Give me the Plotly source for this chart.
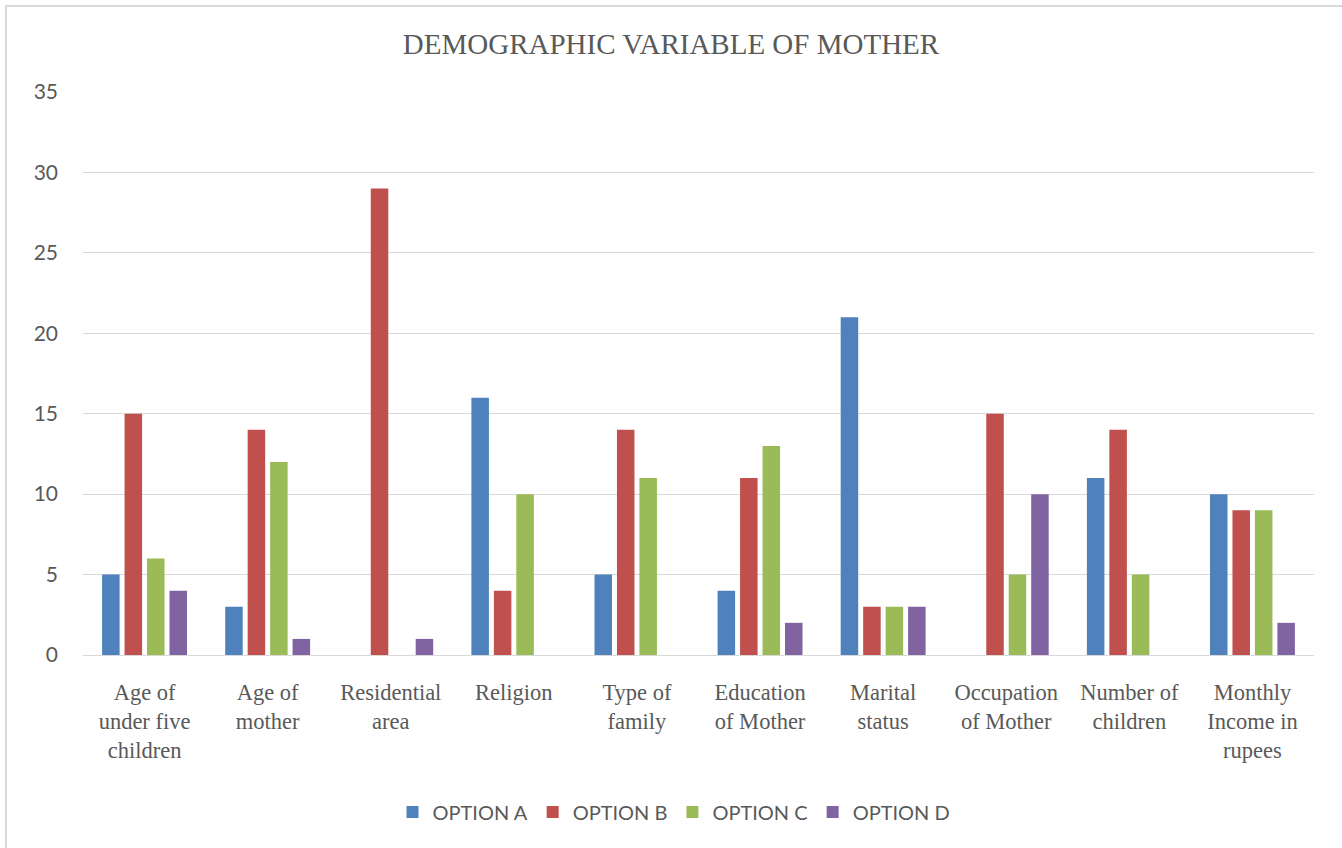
import plotly.graph_objects as go

categories = [
    "Age of<br>under five<br>children",
    "Age of<br>mother",
    "Residential<br>area",
    "Religion",
    "Type of<br>family",
    "Education<br>of Mother",
    "Marital<br>status",
    "Occupation<br>of Mother",
    "Number of<br>children",
    "Monthly<br>Income in<br>rupees",
]
option_a = [5, 3, 0, 16, 5, 4, 21, 0, 11, 10]
option_b = [15, 14, 29, 4, 14, 11, 3, 15, 14, 9]
option_c = [6, 12, 0, 10, 11, 13, 3, 5, 5, 9]
option_d = [4, 1, 1, 0, 0, 2, 3, 10, 0, 2]

series = [
    ("OPTION A", option_a, "#4F81BD"),
    ("OPTION B", option_b, "#C0504D"),
    ("OPTION C", option_c, "#9BBB59"),
    ("OPTION D", option_d, "#8064A2"),
]

W, H = 1342, 848
L, R, T, B = 83, 28, 92, 193

fig = go.Figure()
for name, vals, color in series:
    fig.add_trace(go.Bar(
        x=categories, y=vals, name=name,
        marker=dict(color=color, line=dict(width=0)),
    ))

pw, ph = W - L - R, H - T - B
def px_x(p):
    return (p - L) / pw
def px_y(p):
    return (H - B - p) / ph

fig.update_layout(
    width=W, height=H,
    margin=dict(l=L, r=R, t=T, b=B),
    paper_bgcolor="white", plot_bgcolor="white",
    barmode="group", bargap=0.27, bargroupgap=0.22,
    title=dict(
        text="DEMOGRAPHIC VARIABLE OF MOTHER",
        x=0.5, xanchor="center", xref="container",
        y=1 - 44 / H, yanchor="middle", yref="container",
        font=dict(family="Liberation Serif", size=29, color="#595959"),
    ),
    font=dict(family="Lato", color="#595959"),
    xaxis=dict(
        showgrid=False, showline=False, ticks="",
        tickfont=dict(family="Liberation Serif", size=22.5, color="#595959"),
        ticklabelstandoff=21,
    ),
    yaxis=dict(
        range=[0, 35], dtick=5, tick0=0,
        showgrid=True, gridcolor="#D9D9D9", gridwidth=1,
        zeroline=True, zerolinecolor="#D9D9D9", zerolinewidth=1,
        showline=False, ticks="",
        tickfont=dict(family="Lato", size=21, color="#595959"),
        ticklabelstandoff=24,
    ),
    legend=dict(
        orientation="h", x=px_x(674), xanchor="center",
        y=px_y(812), yanchor="middle",
        font=dict(family="Lato", size=20, color="#595959"),
        itemwidth=30, traceorder="normal",
    ),
    shapes=[dict(
        type="rect", xref="paper", yref="paper",
        x0=px_x(6), x1=px_x(1346), y0=px_y(852), y1=px_y(6),
        line=dict(color="#D9D9D9", width=2), fillcolor="rgba(0,0,0,0)",
        layer="below",
    )],
)

fig.write_html("out.html")
